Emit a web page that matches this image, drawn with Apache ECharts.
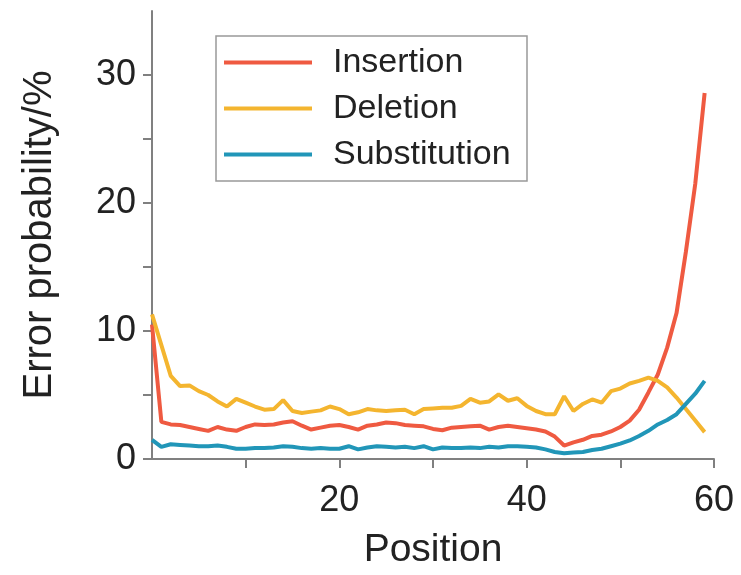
<!DOCTYPE html>
<html>
<head>
    <meta charset="utf-8">
    <title>Error probability</title>
    <script src="https://cdn.jsdelivr.net/npm/echarts@6/dist/echarts.min.js"></script>
</head>
<style>
    html, body {
        margin: 0;
        background: #fff;
    }
    #main {
        width: 741px;
        height: 575px;
    }
</style>
<body>
    <div id="main"></div>
    <script type="text/javascript">
        var seriesNames = ['Insertion', 'Deletion', 'Substitution'];
        var colors = ['#ef5a41', '#f4b52f', '#2196b8'];

        // position 0..59
        var insertion = [10.5, 2.9, 2.7, 2.65, 2.5, 2.35, 2.2, 2.5, 2.3, 2.2,
            2.5, 2.7, 2.65, 2.7, 2.85, 2.95, 2.6, 2.3, 2.45, 2.6,
            2.65, 2.5, 2.3, 2.6, 2.7, 2.85, 2.8, 2.65, 2.6, 2.55,
            2.35, 2.25, 2.45, 2.5, 2.55, 2.6, 2.3, 2.5, 2.6, 2.5,
            2.4, 2.3, 2.15, 1.75, 1.05, 1.3, 1.5, 1.8, 1.9, 2.15,
            2.5, 3.0, 3.85, 5.2, 6.6, 8.7, 11.4, 16.2, 21.5, 28.6];
        var deletion = [11.3, 8.9, 6.5, 5.7, 5.75, 5.3, 5.0, 4.5, 4.1, 4.7,
            4.4, 4.1, 3.85, 3.9, 4.6, 3.75, 3.6, 3.7, 3.8, 4.1,
            3.9, 3.5, 3.65, 3.9, 3.8, 3.75, 3.8, 3.85, 3.5, 3.9,
            3.95, 4.0, 4.0, 4.15, 4.7, 4.4, 4.5, 5.05, 4.55, 4.75,
            4.15, 3.75, 3.5, 3.5, 4.9, 3.75, 4.3, 4.65, 4.4, 5.3,
            5.5, 5.9, 6.1, 6.35, 6.1, 5.6, 4.8, 3.9, 3.0, 2.1];
        var substitution = [1.5, 0.95, 1.15, 1.1, 1.05, 1.0, 1.0, 1.05, 0.95, 0.8,
            0.8, 0.85, 0.85, 0.9, 1.0, 0.95, 0.85, 0.8, 0.85, 0.8,
            0.8, 1.0, 0.75, 0.9, 1.0, 0.95, 0.9, 0.95, 0.85, 1.0,
            0.75, 0.9, 0.85, 0.85, 0.9, 0.85, 0.95, 0.9, 1.0, 1.0,
            0.95, 0.9, 0.75, 0.55, 0.45, 0.5, 0.55, 0.7, 0.8, 1.0,
            1.2, 1.45, 1.8, 2.2, 2.7, 3.05, 3.5, 4.3, 5.1, 6.1];

        var xTicks = [10, 20, 30, 40, 50, 60];
        var xLabels = [20, 40, 60];
        var yTicks = [0, 5, 10, 15, 20, 25, 30];
        var yLabels = [0, 10, 20, 30];

        function pairs(values) {
            var out = [];
            for (var i = 0; i < values.length; i++) {
                out.push([i, values[i]]);
            }
            return out;
        }

        var font = '"Liberation Sans", Arial, sans-serif';
        var axisGray = '#808080';

        var allValues = [insertion, deletion, substitution];
        var series = [];
        for (var s = 0; s < seriesNames.length; s++) {
            series.push({
                name: seriesNames[s],
                type: 'line',
                data: pairs(allValues[s]),
                symbol: 'none',
                lineStyle: { color: colors[s], width: 4 },
                itemStyle: { color: colors[s] }
            });
        }

        var option = {
            animation: false,
            grid: { left: 152, right: 27, top: 11, bottom: 115 },
            legend: {
                left: 216,
                top: 36,
                orient: 'vertical',
                data: seriesNames,
                icon: 'rect',
                itemWidth: 88,
                itemHeight: 4,
                itemGap: 11,
                padding: [9, 12, 9, 8],
                borderColor: '#999',
                borderWidth: 1.5,
                textStyle: {
                    fontFamily: font,
                    fontSize: 34,
                    color: '#222',
                    lineHeight: 35,
                    width: 182,
                    padding: [0, 0, 0, 16]
                }
            },
            xAxis: {
                type: 'value',
                min: 0,
                max: 60,
                name: 'Position',
                nameLocation: 'middle',
                nameGap: 72,
                nameTextStyle: { fontFamily: font, fontSize: 39, color: '#222' },
                splitLine: { show: false },
                axisLine: { lineStyle: { color: axisGray, width: 2 } },
                axisTick: { customValues: xTicks, length: 9, lineStyle: { color: axisGray, width: 2 } },
                axisLabel: { customValues: xLabels, margin: 24, fontFamily: font, fontSize: 36, color: '#222' }
            },
            yAxis: {
                type: 'value',
                min: 0,
                max: 35,
                name: 'Error probability/%',
                nameLocation: 'middle',
                nameGap: 92,
                nameTextStyle: { fontFamily: font, fontSize: 40, color: '#222' },
                splitLine: { show: false },
                axisLine: { show: true, lineStyle: { color: axisGray, width: 2 } },
                axisTick: { show: true, customValues: yTicks, length: 9, lineStyle: { color: axisGray, width: 2 } },
                axisLabel: { customValues: yLabels, margin: 16, fontFamily: font, fontSize: 36, color: '#222' }
            },
            series: series
        };

        var myChart = echarts.init(document.getElementById('main'));
        myChart.setOption(option);
    </script>
</body>
</html>
